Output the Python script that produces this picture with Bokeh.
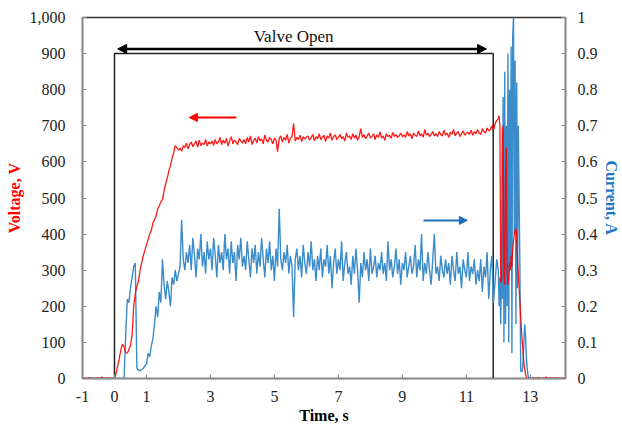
import numpy as np
from bokeh.plotting import figure
from bokeh.models import (Range1d, LinearAxis, FixedTicker, NumeralTickFormatter,
                          Arrow, NormalHead, Label)
from bokeh.embed import file_html
from bokeh.resources import INLINE

# ---------------- data ----------------
# sample spacing of each segment (s)
dt_main = 0.05
dt_burst = 0.025

volt_pre = [0, 2, 0, 0, 3, 0, 1, 0, 0, 2, 0, 0, 4, 0, 0, 1, 0, 2, 0, 0]  # -1.0 .. -0.05
curr_pre = [0] * 20

volt_main = [
    0, 15, 35, 55, 80, 95, 88, 72, 70, 80, 92, 120, 200, 235, 255, 270, 300, 320, 340, 355,
    370, 385, 400, 410, 430, 440, 450, 470, 478, 490, 495, 520, 540, 555, 575, 590, 610, 625, 645, 640,
    632,
    638, 630, 645, 640, 652, 636, 648, 655, 642, 650, 658, 640, 660, 645, 652, 648, 662, 644, 655, 650,
    658, 645, 662, 650, 655, 668, 648, 660, 652, 665, 644, 658, 670, 650, 660, 655, 648, 665, 658, 652,
    662, 650, 668, 655, 672, 648, 660, 666, 652, 670, 658, 664, 650, 675, 660, 655, 668, 662, 650, 666,
    660, 628, 665, 672, 655, 668, 660, 676, 652, 665, 670, 706, 658, 668, 662, 674, 656, 670, 664, 668,
    672, 660, 668, 676, 658, 670, 664, 678, 662, 668, 674, 656, 672, 666, 680, 660, 670, 675, 662, 668,
    676, 664, 670, 658, 680, 668, 672, 662, 678, 666, 674, 660, 670, 692, 668, 676, 664, 672, 680, 666,
    670, 678, 662, 675, 668, 684, 666, 672, 660, 678, 670, 674, 665, 682, 670, 676, 668, 672, 680, 670,
    675, 668, 684, 672, 678, 664, 680, 674, 670, 686, 672, 678, 668, 690, 674, 680, 670, 676, 684, 672,
    678, 670, 684, 676, 672, 688, 674, 680, 668, 682, 676, 690, 672, 680, 684, 670, 678, 686, 674, 680,
    682, 676, 688, 674, 684, 678, 690, 680, 676, 692, 684, 680, 694, 686, 690, 700, 688, 706, 715,
]
curr_main = [
    0, 0, 0, 0, 0, 0, 0,
    0.12, 0.22, 0.21, 0.25, 0.28, 0.31, 0.32, 0.03, 0.022, 0.022, 0.025, 0.028, 0.035, 0.04,
    0.07, 0.06, 0.09, 0.11, 0.15, 0.20, 0.17, 0.24, 0.21, 0.33, 0.26, 0.22, 0.27, 0.24, 0.20,
    0.28, 0.26, 0.30, 0.27, 0.29, 0.31, 0.44, 0.33, 0.30, 0.35, 0.32,
    0.37, 0.30, 0.39, 0.34, 0.28, 0.36, 0.33, 0.40, 0.31, 0.35, 0.29, 0.38, 0.33, 0.36, 0.30, 0.39, 0.34, 0.28, 0.37, 0.32,
    0.35, 0.30, 0.40, 0.33, 0.36, 0.29, 0.38, 0.32, 0.35, 0.27, 0.37, 0.33, 0.39, 0.31, 0.34, 0.30, 0.38, 0.33, 0.28, 0.36,
    0.32, 0.37, 0.29, 0.35, 0.31, 0.39, 0.33, 0.28, 0.36, 0.32, 0.38, 0.30, 0.34, 0.27, 0.36, 0.31, 0.47, 0.33, 0.30, 0.35,
    0.32, 0.37, 0.29, 0.34, 0.31, 0.17, 0.33, 0.36, 0.30, 0.34, 0.28, 0.37, 0.32, 0.29, 0.35, 0.31, 0.38, 0.30, 0.33, 0.27,
    0.34, 0.30, 0.36, 0.28, 0.33, 0.31, 0.37, 0.29, 0.34, 0.25, 0.32, 0.36, 0.29, 0.33, 0.30, 0.38, 0.27, 0.32, 0.35, 0.29,
    0.31, 0.26, 0.34, 0.29, 0.36, 0.30, 0.21, 0.32, 0.28, 0.35, 0.30, 0.33, 0.27, 0.36, 0.29, 0.31, 0.34, 0.28, 0.32, 0.30,
    0.35, 0.29, 0.32, 0.27, 0.38, 0.30, 0.33, 0.28, 0.31, 0.36, 0.29, 0.33, 0.26, 0.32, 0.30, 0.35, 0.28, 0.31, 0.34, 0.29,
    0.31, 0.37, 0.28, 0.33, 0.30, 0.40, 0.27, 0.32, 0.29, 0.35, 0.30, 0.26, 0.33, 0.40, 0.29, 0.31, 0.27, 0.34, 0.30, 0.28,
    0.33, 0.29, 0.32, 0.26, 0.34, 0.30, 0.27, 0.35, 0.29, 0.31, 0.25, 0.33, 0.30, 0.28, 0.35, 0.27, 0.31, 0.29, 0.33, 0.26,
    0.30, 0.27, 0.33, 0.24, 0.31, 0.28, 0.35, 0.22, 0.30, 0.34, 0.21, 0.27, 0.33,
]
volt_burst = [
    720, 728, 700, 266, 270, 690, 700, 280, 260, 560, 640, 300, 260, 280, 320, 300, 340, 310, 360, 380,
    400, 410, 415, 395, 330, 290, 250, 210, 170, 130, 100, 70, 45, 25, 12, 5, 0, 0, 0, 2, 0,
]
curr_burst = [
    0.30, 0.20, 0.28, 0.15, 0.30, 0.22, 0.78, 0.10, 0.85, 0.15, 0.70, 0.20, 0.90, 0.10, 0.80, 0.30, 0.92, 0.07, 0.95, 1.00,
    0.40, 0.88, 0.15, 0.82, 0.25, 0.70, 0.50, 0.30, 0.02, 0.02, 0.02, 0.05, 0.10, 0.15, 0.12, 0.06, 0.03, 0.01, 0, 0, 0,
]
volt_post = [0, 2, 0, 0, 3, 0, 0, 1, 0, 4, 0, 0, 2, 0, 0, 3, 0, 1, 0, 0, 2, 0]
curr_post = [0] * 22

x_ticks = [-1, 0, 1, 3, 5, 7, 9, 11, 13]
v_ticks = [0, 100, 200, 300, 400, 500, 600, 700, 800, 900, 1000]
c_ticks = [0, 0.1, 0.2, 0.3, 0.4, 0.5, 0.6, 0.7, 0.8, 0.9, 1.0]

valve_open_t = 0.0
valve_close_t = 11.84
valve_level = 900

# sample times for each segment
def seg_times(start, step, n):
    return [round(start + step * i, 4) for i in range(n)]

t_v = (seg_times(-1.0, dt_main, len(volt_pre)) + seg_times(0.0, dt_main, len(volt_main))
       + seg_times(12.0, dt_burst, len(volt_burst)) + seg_times(13.05, dt_main, len(volt_post)))
v_all = volt_pre + volt_main + volt_burst + volt_post
t_c = (seg_times(-1.0, dt_main, len(curr_pre)) + seg_times(0.0, dt_main, len(curr_main))
       + seg_times(12.0, dt_burst, len(curr_burst)) + seg_times(13.05, dt_main, len(curr_post)))
c_all = curr_pre + curr_main + curr_burst + curr_post

# ---------------- figure ----------------
FONT = "Liberation Serif"
RED = "#FF0000"
BLUE_LINE = "#3A8CCB"
BLUE_TXT = "#1C74C4"
AXIS_GRAY = "#8C8C8C"

p = figure(width=622, height=428, x_range=Range1d(-1, 14.1), y_range=Range1d(0, 1000),
           output_backend="svg", toolbar_location=None,
           min_border_left=82, min_border_right=57, min_border_top=17, min_border_bottom=50)
p.extra_y_ranges = {"cur": Range1d(0, 1)}
p.xgrid.visible = False
p.ygrid.visible = False
p.outline_line_color = "#333333"
p.outline_line_width = 1.5
p.background_fill_color = "white"
p.border_fill_color = "white"

# valve open box
p.line([valve_open_t, valve_open_t, valve_close_t, valve_close_t],
       [0, valve_level, valve_level, 0], line_color="#222222", line_width=1.5)

# data lines (current first, voltage drawn over it)
p.line(t_c, c_all, line_color=BLUE_LINE, line_width=1.4, y_range_name="cur")
p.line(t_v, v_all, line_color=RED, line_width=1.3, line_alpha=0.9)

# axes styling
def style_axis(ax):
    ax.axis_line_color = AXIS_GRAY
    ax.axis_line_width = 1.5
    ax.major_tick_line_color = AXIS_GRAY
    ax.major_tick_in = 4
    ax.major_tick_out = 0
    ax.minor_tick_line_color = None
    ax.major_label_text_font = FONT
    ax.major_label_text_font_size = "16px"
    ax.major_label_text_color = "#222222"
    ax.axis_label_text_font = FONT
    ax.axis_label_text_font_size = "16px"
    ax.axis_label_text_font_style = "bold"

xa = p.xaxis[0]
xa.ticker = FixedTicker(ticks=x_ticks)
xa.major_label_overrides = {-1: "-1"}
style_axis(xa)
xa.axis_label = "Time, s"
xa.axis_label_text_color = "black"
xa.major_label_standoff = 12
xa.axis_label_standoff = 2

ya = p.yaxis[0]
ya.ticker = FixedTicker(ticks=v_ticks)
ya.formatter = NumeralTickFormatter(format="0,0")
style_axis(ya)
ya.axis_label = "Voltage, V"
ya.axis_label_text_color = RED
ya.major_label_standoff = 17
ya.axis_label_standoff = 4

ra = LinearAxis(y_range_name="cur", ticker=FixedTicker(ticks=c_ticks),
                formatter=NumeralTickFormatter(format="0.[0]"))
style_axis(ra)
ra.axis_label = "Current, A"
ra.axis_label_text_color = BLUE_TXT
ra.major_label_standoff = 12
ra.axis_label_standoff = 2
p.add_layout(ra, "right")

# annotations
p.add_layout(Arrow(start=NormalHead(size=9, fill_color="black", line_color="black"),
                   end=NormalHead(size=9, fill_color="black", line_color="black"),
                   x_start=0.1, y_start=913, x_end=11.63, y_end=913,
                   line_color="black", line_width=2.5))
p.add_layout(Label(x=5.6, y=947, text="Valve Open", text_align="center", text_baseline="middle",
                   text_font=FONT, text_font_size="17px", text_color="#111111"))
p.add_layout(Arrow(end=NormalHead(size=8, fill_color=RED, line_color=RED),
                   x_start=3.81, y_start=723, x_end=2.34, y_end=723,
                   line_color=RED, line_width=2))
p.add_layout(Arrow(end=NormalHead(size=8, fill_color="#1F6FB8", line_color="#1F6FB8"),
                   x_start=9.66, y_start=438, x_end=11.03, y_end=438,
                   line_color="#1F6FB8", line_width=2))

open("out.html", "w").write(file_html(p, INLINE))
